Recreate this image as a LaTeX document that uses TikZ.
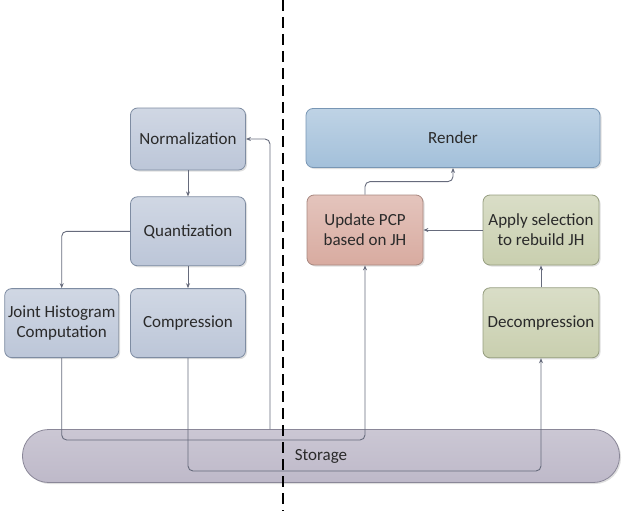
\documentclass[tikz,border=0pt]{standalone}
\usepackage{fontspec}
\setmainfont{Carlito}
\usepackage{tikz}
\usetikzlibrary{arrows.meta,positioning,shapes,shadows}

\definecolor{bluegray}{HTML}{BCC6D8}
\definecolor{bluegrayline}{HTML}{7E8CA2}
\definecolor{renderblue}{HTML}{A3C0DA}
\definecolor{renderline}{HTML}{7896B4}
\definecolor{salmon}{HTML}{D8ABA0}
\definecolor{salmonline}{HTML}{A88880}
\definecolor{olive}{HTML}{C9CFAF}
\definecolor{oliveline}{HTML}{969E80}
\definecolor{lavender}{HTML}{BEB9C9}
\definecolor{lavenderline}{HTML}{8A8798}
\definecolor{linkgray}{HTML}{666B7C}
\definecolor{textgray}{HTML}{2A2A2A}

\begin{document}
\begin{tikzpicture}[x=1pt,y=-1pt,node distance=22pt,
    font=\fontsize{17}{20}\selectfont, text=textgray]
	\tikzstyle{stage}
	  =[draw=bluegrayline, top color=bluegray!70, bottom color=bluegray,
	  rectangle, rounded corners=7pt, minimum width=115pt,
	  minimum height=69pt, align=center, line width=0.8pt, inner sep=2pt,
	  drop shadow={opacity=0.25, shadow xshift=1.5pt, shadow yshift=-1.5pt}]
	\tikzstyle{link}
	  =[draw=linkgray, line width=0.9pt, rounded corners=5pt,
	  -{Stealth[length=5pt,width=4pt]}]

	\useasboundingbox (0,0) rectangle (623,511);

	% left side: preprocessing
	\node[stage, minimum height=62pt] (norm)
	  at (188,139) {Normalization};
	\node[stage] (quant)
	  [below=26pt of norm] {Quantization};
	\node[stage] (comp)
	  [below=22pt of quant] {Compression};
	\node[stage, minimum width=114pt] (jh)
	  [left=11pt of comp] {Joint Histogram\\Computation};

	% right side: interaction
	\node[stage, draw=renderline, top color=renderblue!70,
	  bottom color=renderblue, minimum width=294pt, minimum height=59pt] (render)
	  at (453,138) {Render};
	\node[stage, draw=salmonline, top color=salmon!70, bottom color=salmon,
	  minimum width=116pt, minimum height=70pt] (upd)
	  at (365,230) {Update PCP\\based on JH};
	\node[stage, draw=oliveline, top color=olive!70, bottom color=olive,
	  minimum width=116pt, minimum height=70pt] (apply)
	  at (541,230) {Apply selection\\to rebuild JH};
	\node[stage, draw=oliveline, top color=olive!70, bottom color=olive,
	  minimum width=116pt, minimum height=70pt] (decomp)
	  [below=22pt of apply] {Decompression};

	% storage
	\node[stage, draw=lavenderline, top color=lavender!80,
	  bottom color=lavender, minimum width=597pt, minimum height=53pt,
	  rounded corners=26pt] (storage)
	  at (321,456) {Storage};

	\coordinate (busA) at (0,440);
	\coordinate (busB) at (0,471);
	\coordinate (feed) at (270,0);

	\draw[link] (norm) -- (quant);
	\draw[link] (quant) -- (comp);
	\draw[link] (quant.west) -| (jh.north);
	\draw[link] (upd.north) -- ++(0,-13) -| (render.south);
	\draw[link] (apply) -- (upd);
	\draw[link] (decomp) -- (apply);
	\draw[link] (jh.south) |- (busA -| upd) -- (upd.south);
	\draw[link] (comp.south) |- (busB -| decomp) -- (decomp.south);
	\draw[link] (storage.north -| feed) |- (norm.east);

	\draw[black, line width=1.6pt, dash pattern=on 11pt off 6pt]
	  (283,0) -- (283,511);
\end{tikzpicture}
\end{document}
